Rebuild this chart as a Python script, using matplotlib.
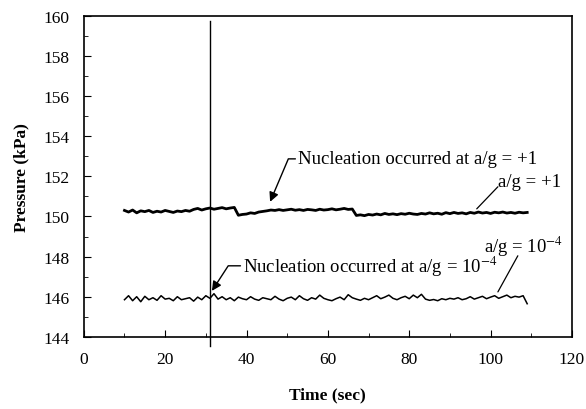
import numpy as np
import matplotlib
matplotlib.use("Agg")
import matplotlib.pyplot as plt
from matplotlib.ticker import MultipleLocator

plt.rcParams['font.family'] = ['Liberation Serif', 'DejaVu Serif']
plt.rcParams['mathtext.fontset'] = 'stix'

# pressure traces, one sample per second from t = 10 s
time = np.arange(10, 110)

p_plus1 = [150.30, 150.22, 150.32, 150.18, 150.28, 150.24, 150.30, 150.20, 150.26, 150.22,
           150.30, 150.25, 150.20, 150.27, 150.24, 150.30, 150.26,
           150.35, 150.40, 150.32, 150.38, 150.42, 150.36, 150.40, 150.44, 150.38, 150.42, 150.45,
           150.06, 150.10, 150.12, 150.18, 150.15, 150.22, 150.25, 150.28, 150.32, 150.30,
           150.34, 150.30, 150.33, 150.36, 150.31, 150.34, 150.30, 150.35, 150.33, 150.30,
           150.36, 150.32, 150.34, 150.38, 150.33, 150.36, 150.40, 150.35, 150.37,
           150.05, 150.08, 150.04, 150.10, 150.07, 150.12, 150.08, 150.15, 150.10, 150.13,
           150.09, 150.14, 150.11, 150.16, 150.12, 150.10, 150.15, 150.12, 150.18, 150.13,
           150.16, 150.11, 150.19, 150.14, 150.20, 150.15, 150.18, 150.13, 150.20, 150.16,
           150.22, 150.17, 150.20, 150.15, 150.21, 150.18, 150.22, 150.17, 150.20, 150.16,
           150.21, 150.18, 150.20]

p_1e4 = [145.85, 146.05, 145.80, 146.00, 145.75, 146.02, 145.85, 145.95, 145.82, 146.05,
         145.88, 145.92, 145.80, 146.00, 145.85, 145.90, 145.95, 145.78, 145.98, 145.85,
         146.05, 145.92, 146.15, 145.88, 146.00, 145.85, 145.95, 145.80, 145.98, 145.90,
         145.85, 146.00, 145.88, 145.82, 145.95, 145.90, 145.85, 146.02, 145.88, 145.80,
         145.92, 145.98, 145.85, 146.05, 145.90, 145.82, 145.95, 145.88, 146.08, 145.92,
         145.85, 145.80, 145.90, 145.98, 145.85, 146.10, 145.95, 145.88, 145.82, 145.92,
         145.85, 145.95, 146.05, 145.90, 145.98, 146.08, 145.92, 145.85, 145.95, 146.02,
         145.90, 146.08, 145.95, 146.12, 145.88, 145.82, 145.86, 145.80, 145.90, 145.85,
         145.92, 145.88, 145.95, 145.85, 145.90, 146.00, 145.88, 145.95, 146.02, 145.90,
         145.98, 146.05, 145.92, 146.00, 146.08, 145.95, 146.02, 145.98, 146.05, 145.65]

t_nucleation = 31

fig = plt.figure(figsize=(5.86, 4.10), dpi=100)
ax = fig.add_axes([0.143, 0.176, 0.833, 0.783])

ax.plot(time, p_plus1, color='black', lw=2.0)
ax.plot(time, p_1e4, color='black', lw=1.1)
ax.axvline(t_nucleation, ymin=-0.03, ymax=0.985, color='black', lw=1.0, clip_on=False)

ax.set_xlim(0, 120)
ax.set_ylim(144, 160)
ax.xaxis.set_major_locator(MultipleLocator(20))
ax.xaxis.set_minor_locator(MultipleLocator(10))
ax.yaxis.set_major_locator(MultipleLocator(2))
ax.yaxis.set_minor_locator(MultipleLocator(1))
ax.tick_params(which='both', direction='in', labelsize=12.5, top=False, right=False)
ax.tick_params(which='major', length=5, pad=10)
ax.tick_params(which='minor', length=3)
for s in ax.spines.values():
    s.set_linewidth(1.2)

ax.set_xlabel('Time (sec)', fontsize=12.5, fontweight='bold', labelpad=14)
ax.set_ylabel('Pressure (kPa)', fontsize=12.5, fontweight='bold', labelpad=10)

# annotations
arrow = dict(arrowstyle='-|>', color='black', lw=1.0, mutation_scale=14,
             shrinkA=0, shrinkB=0)
ax.annotate('Nucleation occurred at a/g = +1', xy=(45.8, 150.73), xytext=(52.7, 152.87),
            fontsize=13.5, va='center', ha='left',
            arrowprops=dict(arrow, connectionstyle='angle,angleA=0,angleB=67,rad=0'))
ax.annotate('Nucleation occurred at a/g = 10$^{-4}$', xy=(31.5, 146.29), xytext=(39.2, 147.54),
            fontsize=13.5, va='center', ha='left',
            arrowprops=dict(arrow, connectionstyle='angle,angleA=0,angleB=57,rad=0'))

line = dict(arrowstyle='-', color='black', lw=0.9, shrinkA=0, shrinkB=0)
ax.text(101.8, 151.73, 'a/g = +1', fontsize=13.5, va='center', ha='left')
ax.annotate('', xy=(96.6, 150.38), xytext=(101.8, 151.48), arrowprops=line)
ax.text(98.3, 148.54, 'a/g = 10$^{-4}$', fontsize=13.5, va='center', ha='left')
ax.annotate('', xy=(101.8, 146.24), xytext=(106.7, 148.04), arrowprops=line)

fig.savefig('out.png', dpi=100)
